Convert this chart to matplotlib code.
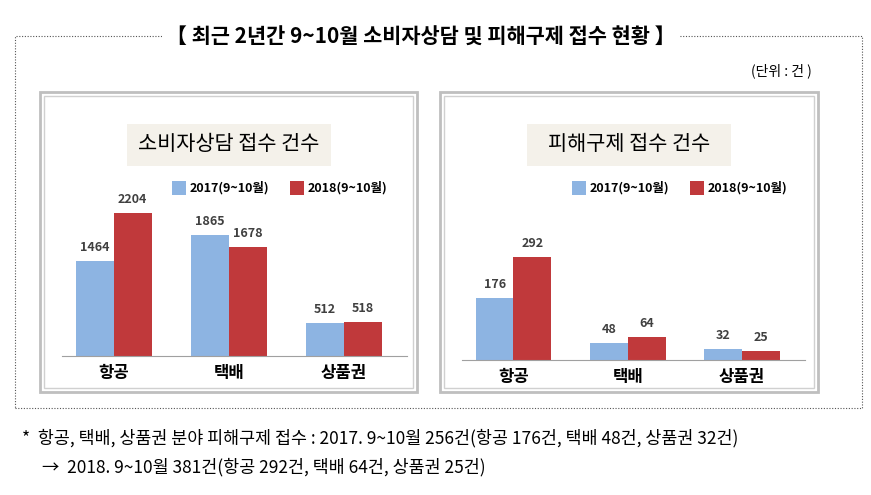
import matplotlib
matplotlib.use("Agg")
import matplotlib.pyplot as plt
from matplotlib.patches import Rectangle
from matplotlib import font_manager
import numpy as np

names = {f.name for f in font_manager.fontManager.ttflist}
fam = [n for n in ["Noto Sans CJK KR", "Noto Sans CJK JP", "Noto Sans CJK SC", "Noto Sans CJK TC"] if n in names]
plt.rcParams['font.family'] = fam + ["DejaVu Sans"]

categories = ["항공", "택배", "상품권"]
consult_2017 = [1464, 1865, 512]
consult_2018 = [2204, 1678, 518]
relief_2017 = [176, 48, 32]
relief_2018 = [292, 64, 25]
series_names = ["2017(9~10월)", "2018(9~10월)"]

W, H = 871, 495
fig = plt.figure(figsize=(W/100, H/100), dpi=100)
BLUE = "#8DB4E2"
RED = "#C0393B"

def fx(x): return x / W
def fy(y): return 1 - y / H

fig.patches.append(Rectangle((fx(15), fy(408)), fx(862-15), (408-36)/H, transform=fig.transFigure,
                             fill=False, ls=(0, (1, 1.5)), lw=0.8, ec="#555555"))
fig.text(fx(421), fy(37), "【 최근 2년간 9~10월 소비자상담 및 피해구제 접수 현황 】", ha="center", va="center",
         fontsize=15, fontweight="bold", bbox=dict(fc="white", ec="none", pad=3))
fig.text(fx(812), fy(71), "(단위 : 건 )", ha="right", va="center", fontsize=10)

def panel(x0, x1, title, d17, d18, base, top_val_px, vmax, ax_x0, ax_x1):
    y0, y1 = 92, 392
    for off, col, lw in [(0, "#BFBFBF", 2.0), (4, "#D0D0D0", 1.0)]:
        fig.patches.append(Rectangle((fx(x0+off), fy(y1-off)), fx(x1-x0-2*off), (y1-y0-2*off)/H,
                                     transform=fig.transFigure, fill=False, ec=col, lw=lw))
    cx = (x0 + x1) / 2
    fig.patches.append(Rectangle((fx(cx-102), fy(166)), fx(204), 42/H, transform=fig.transFigure,
                                 fc="#F4F1EA", ec="none"))
    fig.text(fx(cx), fy(144), title, ha="center", va="center", fontsize=15)
    axtop = 180
    ax = fig.add_axes([fx(ax_x0), fy(base), fx(ax_x1-ax_x0), (base-axtop)/H])
    ylim = vmax * (base-axtop) / top_val_px
    x = np.arange(len(categories))
    w = 0.33
    b1 = ax.bar(x - w/2, d17, w, color=BLUE)
    b2 = ax.bar(x + w/2, d18, w, color=RED)
    for bars, vals in [(b1, d17), (b2, d18)]:
        for b, v in zip(bars, vals):
            ax.text(b.get_x()+b.get_width()/2, v + ylim*0.04, str(v), ha="center", va="bottom",
                    fontsize=9, fontweight="bold", color="#404040")
    ax.set_xlim(-0.45, 2.55)
    ax.set_ylim(0, ylim)
    for s in ["top", "right", "left"]:
        ax.spines[s].set_visible(False)
    ax.spines["bottom"].set_color("#A0A0A0")
    ax.set_yticks([])
    ax.set_xticks(x)
    ax.set_xticklabels(categories, fontsize=12, fontweight="bold")
    ax.tick_params(axis="x", length=0, pad=6)
    ax.patch.set_alpha(0)
    lx = x0 + 132
    for i, (nm, c) in enumerate(zip(series_names, [BLUE, RED])):
        px = lx + i*118
        fig.patches.append(Rectangle((fx(px), fy(195)), fx(14), 14/H, transform=fig.transFigure,
                                     fc=c, ec="none"))
        fig.text(fx(px+18), fy(188), nm, ha="left", va="center", fontsize=9, fontweight="bold")

panel(40, 417, "소비자상담 접수 건수", consult_2017, consult_2018, 356, 143, 2204, 62, 407)
panel(440, 818, "피해구제 접수 건수", relief_2017, relief_2018, 360, 103, 292, 462, 805)

fig.text(fx(22), fy(438), "*  항공, 택배, 상품권 분야 피해구제 접수 : 2017. 9~10월 256건(항공 176건, 택배 48건, 상품권 32건)",
         ha="left", va="center", fontsize=12.5)
fig.text(fx(42), fy(467), "→  2018. 9~10월 381건(항공 292건, 택배 64건, 상품권 25건)",
         ha="left", va="center", fontsize=12.5)

fig.savefig("out.png", dpi=100)
